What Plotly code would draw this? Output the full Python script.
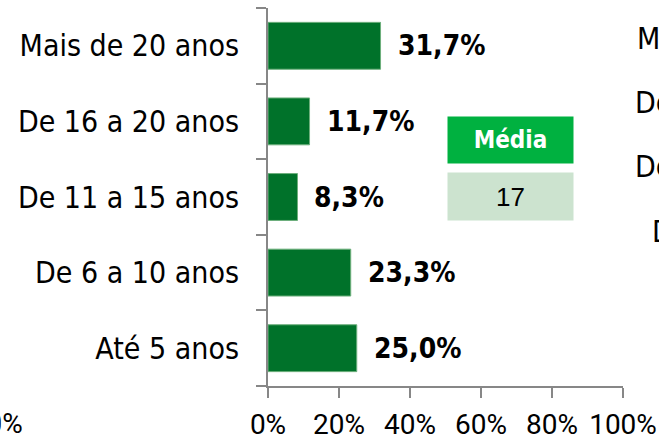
import plotly.graph_objects as go

# ---- data ----
categories = ["Até 5 anos", "De 6 a 10 anos", "De 11 a 15 anos", "De 16 a 20 anos", "Mais de 20 anos"]
values = [25.0, 23.3, 8.3, 11.7, 31.7]
x_ticks = [0, 20, 40, 60, 80, 100]
x_tick_labels = ["0%", "20%", "40%", "60%", "80%", "100%"]
media_label = "Média"
media_value = 17
# labels of the neighbouring (cropped) chart on the right, top to bottom
right_labels = ["Mais de 20 anos", "De 16 a 20 anos", "De 11 a 15 anos", "De 6 a 10 anos", "Até 5 anos"]
left_cut_label = "100%"

LABEL_FONT = "DejaVu Sans Condensed, DejaVu Sans, sans-serif"
TICK_FONT = "Roboto, Liberation Sans, sans-serif"
BAR_COLOR = "#00722A"
AXIS_COLOR = "#878787"

fig = go.Figure()
fig.add_trace(go.Bar(
    x=values, y=categories, orientation="h",
    marker=dict(color=BAR_COLOR, line=dict(color="#6DAF7C", width=1)),
    hoverinfo="skip",
))

annotations = []
for v, c in zip(values, categories):
    annotations.append(dict(
        x=v, y=c, xref="x", yref="y", xanchor="left", yanchor="middle",
        xshift=15, showarrow=False,
        text="<b>" + f"{v:.1f}".replace(".", ",") + "%</b>",
        font=dict(family=LABEL_FONT, size=28, color="#000000"),
    ))

# Média boxes
annotations.append(dict(
    x=0.682, y=0.651, xref="paper", yref="paper", xanchor="center", yanchor="middle",
    showarrow=False, text="<b>" + media_label + "</b>",
    width=125, height=46, bgcolor="#00B140", borderpad=0,
    font=dict(family=LABEL_FONT, size=24, color="#FFFFFF"),
))
annotations.append(dict(
    x=0.682, y=0.501, xref="paper", yref="paper", xanchor="center", yanchor="middle",
    showarrow=False, text=str(media_value),
    width=125, height=47, bgcolor="#CCE3CF", borderpad=0,
    font=dict(family="Liberation Sans, Arial, sans-serif", size=26, color="#000000"),
))

# cropped neighbouring chart labels (right edge, mostly outside the picture)
for i, lab in enumerate(right_labels):
    annotations.append(dict(
        x=1.662, y=0.92 - i * 0.1701, xref="paper", yref="paper",
        xanchor="right", yanchor="middle", showarrow=False, text=lab,
        font=dict(family=LABEL_FONT, size=30, color="#000000"),
    ))

# cropped tick label of the chart on the left
annotations.append(dict(
    x=-0.6845, y=-0.1005, xref="paper", yref="paper", xanchor="right", yanchor="middle",
    showarrow=False, text=left_cut_label,
    font=dict(family=TICK_FONT, size=28, color="#000000"),
))

fig.update_layout(
    width=659, height=443,
    margin=dict(l=268, r=36, t=8, b=57, pad=0, autoexpand=False),
    paper_bgcolor="#FFFFFF", plot_bgcolor="#FFFFFF",
    showlegend=False, bargap=0.38,
    annotations=annotations,
    xaxis=dict(
        range=[0, 100], tickmode="array", tickvals=x_ticks, ticktext=x_tick_labels,
        showgrid=False, zeroline=False, showline=True, linecolor=AXIS_COLOR, linewidth=2,
        ticks="outside", ticklen=10, tickwidth=2, tickcolor=AXIS_COLOR,
        tickfont=dict(family=TICK_FONT, size=28, color="#000000"),
        ticklabelstandoff=2, fixedrange=True, automargin=False,
    ),
    yaxis=dict(
        categoryorder="array", categoryarray=categories,
        showgrid=False, zeroline=False, showline=True, linecolor=AXIS_COLOR, linewidth=2,
        ticks="outside", ticklen=10, tickwidth=2, tickcolor=AXIS_COLOR, tickson="boundaries",
        tickfont=dict(family=LABEL_FONT, size=30, color="#000000"),
        ticklabelstandoff=21, fixedrange=True, automargin=False,
    ),
)

fig.write_html(
    "out.html",
    config={"displayModeBar": False},
    post_script="document.body.style.margin='0';document.body.style.overflow='hidden';",
)
